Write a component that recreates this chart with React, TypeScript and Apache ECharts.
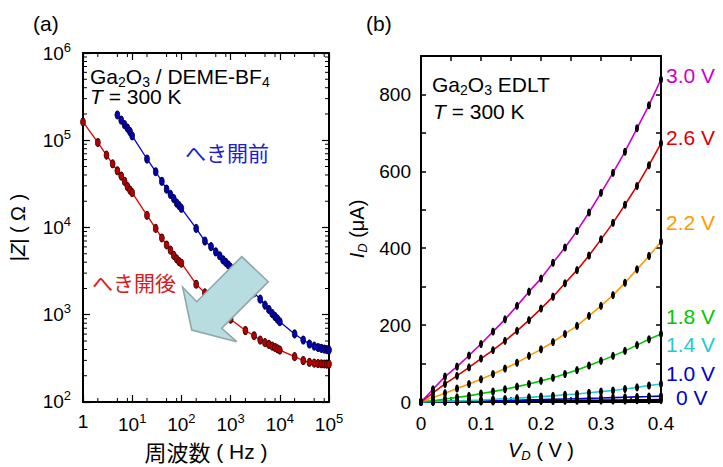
import React, { useEffect, useRef } from 'react';
import * as echarts from 'echarts';

// ---------- Panel (a): impedance vs frequency ----------
const freqAfter = [
  1, 2, 3, 4, 5, 6, 7, 8, 9,
  10, 20, 30, 40, 50, 60, 70, 80, 90,
  100, 200, 300, 400, 500, 600, 700, 800, 900,
  1000, 2000, 3000, 4000, 5000, 6000, 7000, 8000, 9000,
  10000, 20000, 30000, 40000, 50000, 60000, 70000, 80000, 90000,
  100000,
];
const zAfter = [
  162000, 94400, 67600, 53700, 44700, 38900, 33900, 29500, 26900,
  25100, 13800, 9770, 7590, 6310, 5500, 4790, 4370, 4070,
  3900, 2240, 1780, 1510, 1320, 1170, 1070, 1000, 945,
  890, 660, 575, 513, 479, 457, 437, 422, 407,
  394, 331, 299, 285, 279, 276, 274, 273, 272,
  272,
];
const freqBefore = [
  5, 6, 7, 8, 9,
  10, 20, 30, 40, 50, 60, 70, 80, 90,
  100, 200, 300, 400, 500, 600, 700, 800, 900,
  1000, 2000, 3000, 4000, 5000, 6000, 7000, 8000, 9000,
  10000, 20000, 30000, 40000, 50000, 60000, 70000, 80000, 90000,
  100000,
];
const zBefore = [
  195000, 170000, 151000, 138000, 126000,
  112000, 61000, 43600, 33900, 27500, 24000, 21400, 19100, 17800,
  16600, 9770, 7000, 6030, 5250, 4750, 4270, 3980, 3720,
  3500, 2290, 1780, 1510, 1290, 1150, 1035, 955, 890,
  832, 603, 513, 462, 437, 422, 412, 405, 398,
  394,
];
const xMinorTicks = [2, 5, 8, 20, 50, 80, 200, 500, 800, 2000, 5000, 8000, 20000, 50000, 80000];
const yMinorTicks = [
  200, 300, 400, 500, 600, 700, 800, 900,
  2000, 3000, 4000, 5000, 6000, 7000, 8000, 9000,
  20000, 30000, 40000, 50000, 60000, 70000, 80000, 90000,
  200000, 300000, 400000, 500000, 600000, 700000, 800000, 900000,
];

// ---------- Panel (b): I_D vs V_D ----------
const vd = [0, 0.02, 0.04, 0.06, 0.08, 0.1, 0.12, 0.14, 0.16, 0.18, 0.2, 0.22, 0.24, 0.26, 0.28, 0.3, 0.32, 0.34, 0.36, 0.38, 0.4];
const gateLabels = ['3.0 V', '2.6 V', '2.2 V', '1.8 V', '1.4 V', '1.0 V', '0 V'];
const gateColors = ['#cc00cc', '#dd0000', '#ff9900', '#00c800', '#22cccc', '#0000cc', '#000000'];
const labelColors = ['#cc00cc', '#dd0000', '#ff9900', '#00c800', '#22cccc', '#0000cc', '#0000cc'];
const id30 = [0, 33, 66, 92, 121, 151, 183, 215, 250, 287, 321, 362, 402, 445, 493, 544, 596, 651, 712, 772, 839];
const id26 = [0, 24, 47, 68, 90, 113, 135, 159, 185, 213, 243, 274, 309, 343, 381, 423, 466, 513, 562, 616, 673];
const id22 = [0, 12, 23, 35, 47, 59, 73, 87, 102, 120, 137, 156, 177, 198, 224, 250, 278, 310, 345, 380, 417];
const id18 = [0, 3, 8, 12, 16, 22, 27, 33, 40, 47, 55, 63, 73, 83, 95, 107, 120, 133, 148, 163, 177];
const id14 = [0, 1, 2, 3, 4, 5, 7, 8, 10, 12, 14, 16, 19, 21, 24, 27, 30, 34, 38, 43, 47];
const id10 = [0, 0.5, 1, 1.6, 2.2, 2.8, 3.4, 4.0, 4.7, 5.4, 6.1, 6.9, 7.7, 8.5, 9.4, 10.3, 11.3, 12.3, 13.3, 14.3, 15.4];
const id00 = [0, 0.2, 0.4, 0.6, 0.9, 1.1, 1.4, 1.6, 1.9, 2.1, 2.4, 2.6, 2.9, 3.1, 3.4, 3.6, 3.9, 4.1, 4.4, 4.6, 4.9];
const idSeries = [id30, id26, id22, id18, id14, id10, id00];
const labelY = [75, 137, 222, 316, 344, 373, 397];
const labelX = [666, 666, 666, 666, 666, 666, 676];

const FONT = '"Liberation Sans", Arial, sans-serif';
const JP = '"Noto Sans CJK JP", sans-serif';

const supRich = {
  base: { fontSize: 19, fontFamily: FONT, color: '#000' },
  sup: { fontSize: 13, fontFamily: FONT, color: '#000', verticalAlign: 'middle', padding: [0, 0, 12, 0] },
};
const subRich = (size: number) => {
  const s = Math.round(size * 0.65);
  const pad = Math.round(size * 0.55);
  return {
    n: { fontSize: size, fontFamily: FONT, color: '#000' },
    i: { fontSize: size, fontFamily: FONT, fontStyle: 'italic', color: '#000' },
    sub: { fontSize: s, fontFamily: FONT, color: '#000', verticalAlign: 'middle', padding: [pad, 0, 0, 0] },
    isub: { fontSize: s, fontFamily: FONT, fontStyle: 'italic', color: '#000', verticalAlign: 'middle', padding: [pad, 0, 0, 0] },
  };
};
const jp = { fontFamily: JP };

const pow10Label = (v: number) => {
  const e = Math.round(Math.log10(v));
  if (e === 0) return '{base|1}';
  return '{base|10}{sup|' + e + '}';
};

export default function App() {
  const ref = useRef<HTMLDivElement>(null);
  useEffect(() => {
    if (!ref.current) return;
    const chart = echarts.init(ref.current, undefined, { renderer: 'svg' });
    const frameLine = { show: true, onZero: false, lineStyle: { color: '#000', width: 2 } };
    const minorData: any[] = [];
    xMinorTicks.forEach((x) => {
      minorData.push([x, 100, 0]);
      minorData.push([x, 1e6, 1]);
    });
    yMinorTicks.forEach((y) => {
      minorData.push([1, y, 2]);
      minorData.push([1e5, y, 3]);
    });
    const dirs = [[0, -4], [0, 4], [4, 0], [-4, 0]];

    const ivSeries = idSeries.map((arr, k) => ({
      type: 'line',
      xAxisIndex: 2,
      yAxisIndex: 2,
      data: vd.map((v, j) => [v, arr[j]]),
      symbol: 'circle',
      symbolSize: [4, 8],
      showSymbol: true,
      lineStyle: { color: gateColors[k], width: k === 6 ? 2.5 : 1.6 },
      itemStyle: { color: '#000' },
      z: 10 - k,
    }));

    const option: any = {
      animation: false,
      backgroundColor: '#fff',
      textStyle: { fontFamily: FONT },
      grid: [
        { left: 83, top: 53, width: 246, height: 350 },
        { left: 421, top: 56, width: 240, height: 346 },
      ],
      xAxis: [
        {
          type: 'log', gridIndex: 0, min: 1, max: 1e5, logBase: 10, splitNumber: 5,
          axisLine: frameLine,
          axisTick: { inside: true, length: 7, lineStyle: { color: '#000', width: 1.2 } },
          axisLabel: { formatter: pow10Label, rich: supRich, margin: 10, showMinLabel: true, showMaxLabel: true },
          splitLine: { show: false },
          name: '{j|周波数}{n| ( Hz )}',
          nameLocation: 'middle', nameGap: 38,
          nameTextStyle: { rich: { j: { fontSize: 22, fontFamily: JP, color: '#000' }, n: { fontSize: 21, fontFamily: FONT, color: '#000' } } },
        },
        {
          type: 'log', gridIndex: 0, min: 1, max: 1e5, logBase: 10, splitNumber: 5, position: 'top',
          axisLine: frameLine,
          axisTick: { inside: true, length: 7, lineStyle: { color: '#000', width: 1.2 } },
          axisLabel: { show: false }, splitLine: { show: false },
        },
        {
          type: 'value', gridIndex: 1, min: 0, max: 0.4, interval: 0.1,
          axisLine: frameLine,
          axisTick: { inside: true, length: 5, lineStyle: { color: '#000', width: 1.5 } },
          minorTick: { show: true, splitNumber: 2, length: 5, lineStyle: { color: '#000', width: 1.5 } },
          axisLabel: { fontSize: 19, color: '#000', margin: 12, formatter: (v: number) => (v === 0 ? '0' : v.toFixed(1)) },
          splitLine: { show: false },
          name: '{i|V}{isub|D}{n| ( V )}',
          nameLocation: 'middle', nameGap: 36,
          nameTextStyle: { rich: subRich(20) },
        },
        {
          type: 'value', gridIndex: 1, min: 0, max: 0.4, interval: 0.1, position: 'top',
          axisLine: frameLine,
          axisTick: { inside: true, length: 5, lineStyle: { color: '#000', width: 1.5 } },
          minorTick: { show: true, splitNumber: 2, length: 5, lineStyle: { color: '#000', width: 1.5 } },
          axisLabel: { show: false }, splitLine: { show: false },
        },
      ],
      yAxis: [
        {
          type: 'log', gridIndex: 0, min: 100, max: 1e6, logBase: 10, splitNumber: 4,
          axisLine: frameLine,
          axisTick: { inside: true, length: 7, lineStyle: { color: '#000', width: 1.2 } },
          axisLabel: { formatter: pow10Label, rich: supRich, margin: 12, showMinLabel: true, showMaxLabel: true },
          splitLine: { show: false },
          name: '{n||}{i|Z}{n|| ( Ω )}',
          nameLocation: 'middle', nameGap: 55, nameRotate: 90,
          nameTextStyle: { rich: subRich(20) },
        },
        {
          type: 'log', gridIndex: 0, min: 100, max: 1e6, logBase: 10, splitNumber: 4, position: 'right',
          axisLine: frameLine,
          axisTick: { inside: true, length: 7, lineStyle: { color: '#000', width: 1.2 } },
          axisLabel: { show: false }, splitLine: { show: false },
        },
        {
          type: 'value', gridIndex: 1, min: 0, max: 900, interval: 200,
          axisLine: frameLine,
          axisTick: { inside: true, length: 5, lineStyle: { color: '#000', width: 1.5 } },
          minorTick: { show: true, splitNumber: 2, length: 5, lineStyle: { color: '#000', width: 1.5 } },
          axisLabel: { fontSize: 19, color: '#000', margin: 10, showMaxLabel: false,
            formatter: (v: number) => (v > 800 ? '' : String(v)) },
          splitLine: { show: false },
          name: '{i|I}{isub|D}{n| (μA)}',
          nameLocation: 'middle', nameGap: 52, nameRotate: 90,
          nameTextStyle: { rich: subRich(20) },
        },
        {
          type: 'value', gridIndex: 1, min: 0, max: 900, interval: 200, position: 'right',
          axisLine: frameLine,
          axisTick: { inside: true, length: 5, lineStyle: { color: '#000', width: 1.5 } },
          minorTick: { show: true, splitNumber: 2, length: 5, lineStyle: { color: '#000', width: 1.5 } },
          axisLabel: { show: false }, splitLine: { show: false },
        },
      ],
      series: [
        {
          type: 'line', xAxisIndex: 0, yAxisIndex: 0,
          data: freqAfter.map((f, i) => [f, zAfter[i]]),
          symbol: 'circle', symbolSize: [5, 8], showSymbol: true,
          lineStyle: { color: '#e00000', width: 1.3 },
          itemStyle: { color: '#b00000', borderColor: '#300000', borderWidth: 0.8 },
          z: 3,
        },
        {
          type: 'line', xAxisIndex: 0, yAxisIndex: 0,
          data: freqBefore.map((f, i) => [f, zBefore[i]]),
          symbol: 'circle', symbolSize: [5, 8], showSymbol: true,
          lineStyle: { color: '#0000dd', width: 1.3 },
          itemStyle: { color: '#0000b0', borderColor: '#000030', borderWidth: 0.8 },
          z: 3,
        },
        {
          type: 'custom', xAxisIndex: 0, yAxisIndex: 0, silent: true, clip: false, z: 20,
          data: minorData,
          renderItem: (_p: any, api: any) => {
            const pt = api.coord([api.value(0), api.value(1)]);
            const d = dirs[api.value(2)];
            return {
              type: 'line',
              shape: { x1: pt[0], y1: pt[1], x2: pt[0] + d[0], y2: pt[1] + d[1] },
              style: { stroke: '#000', lineWidth: 1 },
            };
          },
        },
        ...ivSeries,
      ],
      graphic: [
        {
          type: 'polygon', z: 50,
          shape: { points: [[241.7, 256.7], [268.3, 281.7], [221.7, 328.3], [236.7, 341.7], [191.7, 330], [182.7, 287.3], [196.7, 301.7]] },
          style: { fill: '#b7dde0', stroke: '#8ea8aa', lineWidth: 1.6 },
        },
        { type: 'text', x: 33, y: 23, style: { text: '(a)', fontSize: 21, fontFamily: FONT, fill: '#000', verticalAlign: 'middle' } },
        { type: 'text', x: 366, y: 23, style: { text: '(b)', fontSize: 21, fontFamily: FONT, fill: '#000', verticalAlign: 'middle' } },
        {
          type: 'text', x: 90, y: 76, z: 60,
          style: { text: '{n|Ga}{sub|2}{n|O}{sub|3}{n| / DEME-BF}{sub|4}', rich: subRich(21), verticalAlign: 'middle' },
        },
        {
          type: 'text', x: 90, y: 96, z: 60,
          style: { text: '{i|T}{n| = 300 K}', rich: subRich(21), verticalAlign: 'middle' },
        },
        { type: 'text', x: 185, y: 152, z: 60, style: { text: 'へき開前', fontSize: 21, ...jp, fill: '#2020d0', verticalAlign: 'middle' } },
        { type: 'text', x: 92, y: 282, z: 60, style: { text: 'へき開後', fontSize: 21, ...jp, fill: '#d42020', verticalAlign: 'middle' } },
        {
          type: 'text', x: 432, y: 84, z: 60,
          style: { text: '{n|Ga}{sub|2}{n|O}{sub|3}{n| EDLT}', rich: subRich(21), verticalAlign: 'middle' },
        },
        {
          type: 'text', x: 433, y: 111, z: 60,
          style: { text: '{i|T}{n| = 300 K}', rich: subRich(21), verticalAlign: 'middle' },
        },
        ...gateLabels.map((t, k) => ({
          type: 'text', x: labelX[k], y: labelY[k], z: 60,
          style: { text: t, fontSize: 21, fontFamily: FONT, fill: labelColors[k], verticalAlign: 'middle' },
        })),
      ],
    };
    chart.setOption(option);
    return () => chart.dispose();
  }, []);
  return <div ref={ref} style={{ position: 'absolute', left: 0, top: 0, width: 723, height: 467, background: '#fff' }} />;
}
